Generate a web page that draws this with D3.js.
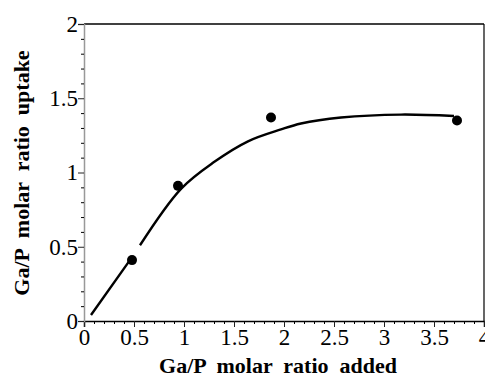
<!DOCTYPE html>
<html>
<head>
<meta charset="utf-8">
<script src="https://cdn.jsdelivr.net/npm/d3@7"></script>
<style>
  body { margin: 0; background: #fff; }
</style>
</head>
<body>
<div id="chart"></div>
<script>
// measured points (Ga/P added, Ga/P uptake)
const addedRatio  = [0.48, 0.94, 1.87, 3.73];
const uptakeRatio = [0.41, 0.91, 1.37, 1.35];

// fitted curve; null marks the gap in the line
const curveX = [0.07, 0.47, null, 0.56, 0.97, 1.3, 1.64, 1.97, 2.17, 2.57, 3.17, 3.7];
const curveY = [0.04, 0.42, null, 0.51, 0.89, 1.07, 1.21, 1.29, 1.33, 1.37, 1.39, 1.38];

const xTicks = [0, 0.5, 1, 1.5, 2, 2.5, 3, 3.5, 4];
const yTicks = [0, 0.5, 1, 1.5, 2];

const FONT = "'Liberation Serif', 'DejaVu Serif', 'Times New Roman', serif";

const W = 485, H = 378;
const margin = {top: 24, right: 1, bottom: 57, left: 84};
const width = W - margin.left - margin.right;
const height = H - margin.top - margin.bottom;

const svg = d3.select("#chart").append("svg")
    .attr("width", W)
    .attr("height", H);

const g = svg.append("g")
    .attr("transform", "translate(" + margin.left + "," + margin.top + ")");

const x = d3.scaleLinear().domain([0, 4]).range([0, width]);
const y = d3.scaleLinear().domain([0, 2]).range([height, 0]);

// frame (top and right)
g.append("line").attr("x1", 0).attr("x2", width).attr("y1", 0).attr("y2", 0)
    .attr("stroke", "#000").attr("stroke-width", 1.5);
g.append("line").attr("x1", width).attr("x2", width).attr("y1", 0).attr("y2", height)
    .attr("stroke", "#000").attr("stroke-width", 1.2);

// minor ticks every 0.1
const xMinor = d3.range(0, 40).map(d => d / 10).filter(d => Math.abs(d * 2 - Math.round(d * 2)) > 1e-6);
const yMinor = d3.range(0, 20).map(d => d / 10).filter(d => Math.abs(d * 2 - Math.round(d * 2)) > 1e-6);

const xAxis = d3.axisBottom(x).tickValues(xTicks).tickSize(6).tickPadding(2)
    .tickFormat(d => d3.format("")(d));
const xAxisMinor = d3.axisBottom(x).tickValues(xMinor).tickSize(3).tickFormat("");
const yAxis = d3.axisLeft(y).tickValues(yTicks).tickSize(6).tickPadding(0)
    .tickFormat(d => d3.format("")(d));
const yAxisMinor = d3.axisLeft(y).tickValues(yMinor).tickSize(3).tickFormat("");

function styleAxis(sel, col) {
    sel.select(".domain").attr("stroke", col).attr("stroke-width", 1.5);
    sel.selectAll(".tick line").attr("stroke", "#222");
    sel.selectAll(".tick text")
        .style("font-family", FONT)
        .style("font-size", "23px")
        .style("fill", "#000");
}

const gx = g.append("g").attr("transform", "translate(0," + height + ")").call(xAxis);
styleAxis(gx, "#000");
g.append("g").attr("transform", "translate(0," + height + ")").call(xAxisMinor)
    .call(s => s.select(".domain").remove());

const gy = g.append("g").call(yAxis);
styleAxis(gy, "#999");
g.append("g").call(yAxisMinor).call(s => s.select(".domain").remove());

// curve
const curveData = curveX.map((d, i) => [d, curveY[i]]);
const line = d3.line()
    .defined(d => d[0] !== null)
    .x(d => x(d[0]))
    .y(d => y(d[1]))
    .curve(d3.curveCatmullRom.alpha(0.5));

g.append("path")
    .datum(curveData)
    .attr("fill", "none")
    .attr("stroke", "#000")
    .attr("stroke-width", 2.4)
    .attr("d", line);

// points
g.selectAll(".dot")
    .data(addedRatio)
    .enter().append("circle")
    .attr("class", "dot")
    .attr("cx", d => x(d))
    .attr("cy", (d, i) => y(uptakeRatio[i]))
    .attr("r", 5)
    .attr("fill", "#000");

// axis titles
svg.append("text")
    .style("font-family", FONT)
    .style("font-weight", "bold")
    .style("font-size", "22px")
    .attr("text-anchor", "middle")
    .attr("x", 278)
    .attr("y", 373)
    .attr("xml:space", "preserve")
    .text("Ga/P  molar  ratio  added");

svg.append("text")
    .style("font-family", FONT)
    .style("font-weight", "bold")
    .style("font-size", "22px")
    .attr("text-anchor", "middle")
    .attr("transform", "translate(29,173) rotate(-90)")
    .attr("xml:space", "preserve")
    .text("Ga/P  molar  ratio  uptake");
</script>
</body>
</html>
